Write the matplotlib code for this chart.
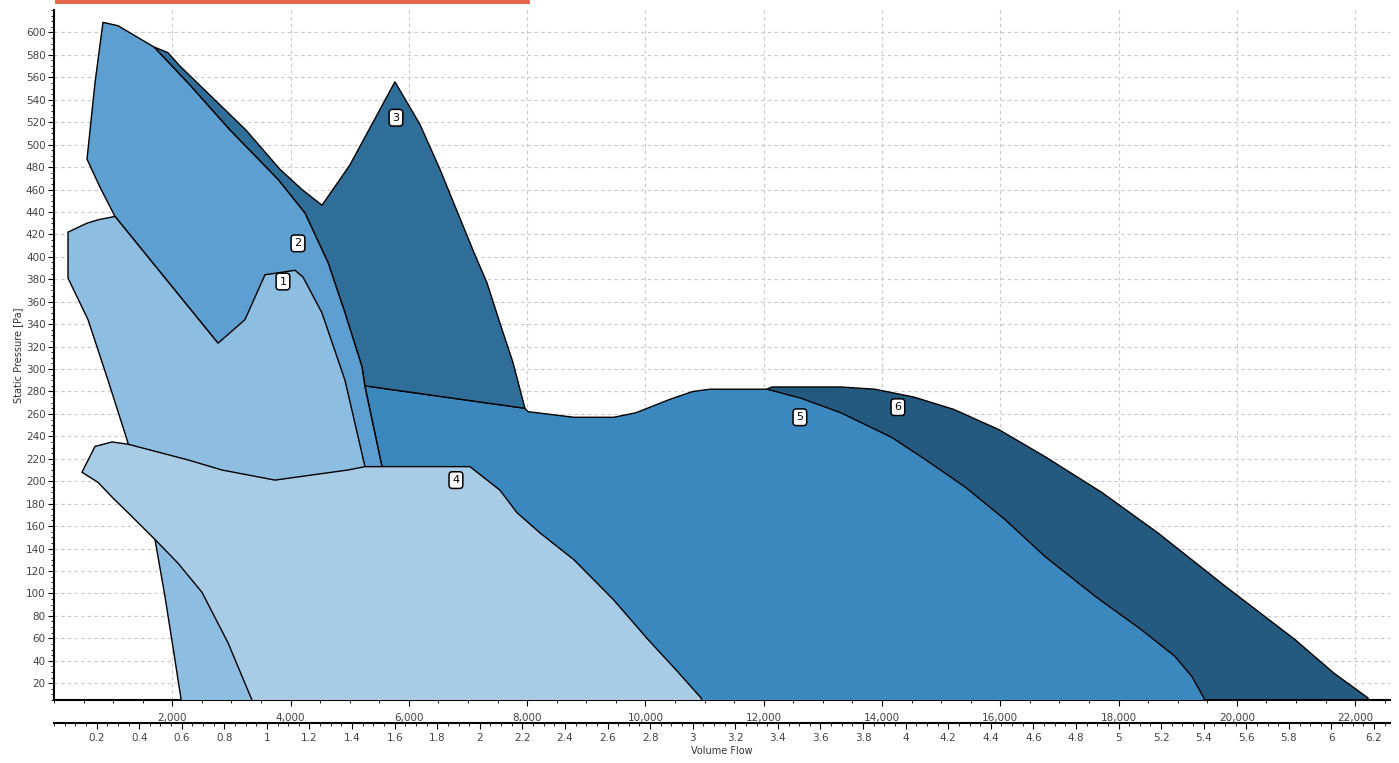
import numpy as np
import matplotlib
matplotlib.use("Agg")
import matplotlib.pyplot as plt
from matplotlib.patches import Polygon, Rectangle
from matplotlib.ticker import MultipleLocator, FuncFormatter

# fan selection zones, volume flow [m3/h] vs static pressure [Pa]
zone1_x = [237, 558, 744, 1031, 2773, 3229, 3567, 4074, 4210, 4531, 4920, 5258,
           5258, 2165, 2012, 1877, 1708, 1234, 913, 575, 237]
zone1_y = [422, 430, 433, 436, 323, 344, 384, 388, 382, 350, 290, 213,
           0, 0, 52, 97, 148, 237, 290, 344, 381]

zone2_x = [558, 778, 1031, 2773, 2773, 5545, 5545, 5258, 5207, 4920, 4632, 4243,
           3787, 2975, 2299, 1691, 1082, 828, 693]
zone2_y = [487, 462, 436, 323, 0, 0, 213, 284, 302, 350, 395, 439,
           469, 513, 553, 587, 606, 609, 555]

zone3_x = [1691, 1927, 2130, 3246, 3821, 4193, 4531, 4835, 5004, 5765, 6188, 6526,
           7084, 7320, 7540, 7760, 7963, 5258, 5207, 4920, 4632, 4243, 3787, 2975, 2299]
zone3_y = [587, 582, 570, 513, 478, 460, 446, 469, 482, 556, 518, 478,
           406, 377, 341, 306, 265, 285, 302, 350, 395, 439, 469, 513, 553]

zone4_x = [473, 693, 981, 1251, 2265, 2840, 3736, 4970, 5258, 7033, 7540, 7827,
           8216, 8791, 9467, 10042, 10515, 10938, 10980, 3360, 3347, 2942, 2502,
           2096, 1708, 1251, 997, 744]
zone4_y = [208, 231, 235, 233, 219, 210, 201, 210, 213, 213, 192, 172,
           154, 130, 94, 59, 32, 7, 0, 0, 5, 56, 101,
           127, 148, 172, 185, 199]

zone5_x = [5258, 7963, 8013, 8791, 9467, 9839, 10414, 10803, 11090, 12054, 12629,
           13305, 14167, 14742, 15401, 16078, 16754, 17616, 18377, 18952, 19239,
           19442, 19480, 5545, 5545]
zone5_y = [285, 265, 262, 257, 257, 261, 273, 280, 282, 282, 274,
           261, 239, 219, 195, 166, 133, 97, 68, 44, 26,
           7, 0, 0, 213]

zone6_x = [12054, 12138, 13305, 13880, 14539, 15215, 15976, 16754, 17717, 18664,
           19814, 20980, 21640, 22215, 22260, 12054]
zone6_y = [282, 284, 284, 282, 275, 264, 246, 222, 190, 154,
           106, 59, 29, 7, 0, 0]

zone_colors = ["#8dbde1", "#5d9fd1", "#2e6e99", "#a8cbe6", "#3b88bf", "#245a80"]
zone_labels = ["1", "2", "3", "4", "5", "6"]
label_x = [3871, 4125, 5782, 6796, 12612, 14269]
label_y = [378, 412, 524, 201, 257, 266]

fig = plt.figure(figsize=(13.99, 7.63), dpi=100)
ax = fig.add_axes([54 / 1399, 1 - 700 / 763, 1336 / 1399, 690 / 763])

zones = [(zone1_x, zone1_y), (zone2_x, zone2_y), (zone3_x, zone3_y),
         (zone4_x, zone4_y), (zone5_x, zone5_y), (zone6_x, zone6_y)]
# draw order: 6 at the back, 4 on top
order = [5, 4, 2, 1, 0, 3]
for z, i in enumerate(order):
    xs, ys = zones[i]
    poly = Polygon(np.column_stack([xs, ys]), closed=True, facecolor=zone_colors[i],
                   edgecolor="black", linewidth=1.0, zorder=2 + z)
    ax.add_patch(poly)

for lx, ly, t in zip(label_x, label_y, zone_labels):
    ax.text(lx, ly, t, ha="center", va="center", fontsize=8, zorder=20,
            bbox=dict(boxstyle="round,pad=0.3", fc="white", ec="black", lw=1.1))

ax.set_xlim(0, 22590)
ax.set_ylim(5, 620)

ax.spines["top"].set_visible(False)
ax.spines["right"].set_visible(False)
ax.spines["left"].set_linewidth(1.5)
ax.spines["bottom"].set_linewidth(1.5)

ax.set_yticks(np.arange(20, 601, 20))
ax.yaxis.set_minor_locator(MultipleLocator(5))
ax.set_xticks(np.arange(2000, 22001, 2000))
ax.xaxis.set_minor_locator(MultipleLocator(500))
ax.xaxis.set_major_formatter(FuncFormatter(lambda v, p: f"{int(v):,}"))
ax.tick_params(axis="both", which="major", labelsize=7.5, labelcolor="#444444",
               length=4, width=0.8, pad=2)
ax.tick_params(axis="both", which="minor", length=2.5, width=0.6)
ax.tick_params(axis="x", pad=5)

ax.grid(True, which="major", linestyle=(0, (3, 3)), color="#c8c8c8", linewidth=0.8)
ax.set_axisbelow(True)

ax.set_ylabel("Static Pressure [Pa]", fontsize=7, color="#333333", labelpad=2)

sec = ax.secondary_xaxis(-0.034, functions=(lambda x: x / 3600, lambda x: x * 3600))
sec.set_xticks(np.arange(0.2, 6.21, 0.2))
sec.xaxis.set_minor_locator(MultipleLocator(0.05))
sec.xaxis.set_major_formatter(FuncFormatter(lambda v, p: f"{round(v, 2):g}"))
sec.spines["bottom"].set_linewidth(1.5)
sec.tick_params(axis="x", which="major", labelsize=7.5, labelcolor="#444444",
                length=4, width=0.8, pad=3)
sec.tick_params(axis="x", which="minor", length=2.5, width=0.6)
sec.set_xlabel("Volume Flow", fontsize=7, color="#333333", labelpad=2)

fig.add_artist(Rectangle((55 / 1399, 1 - 4 / 763), 475 / 1399, 4 / 763,
                         transform=fig.transFigure, color="#e8684f", lw=0))

fig.savefig("out.png", dpi=100)
